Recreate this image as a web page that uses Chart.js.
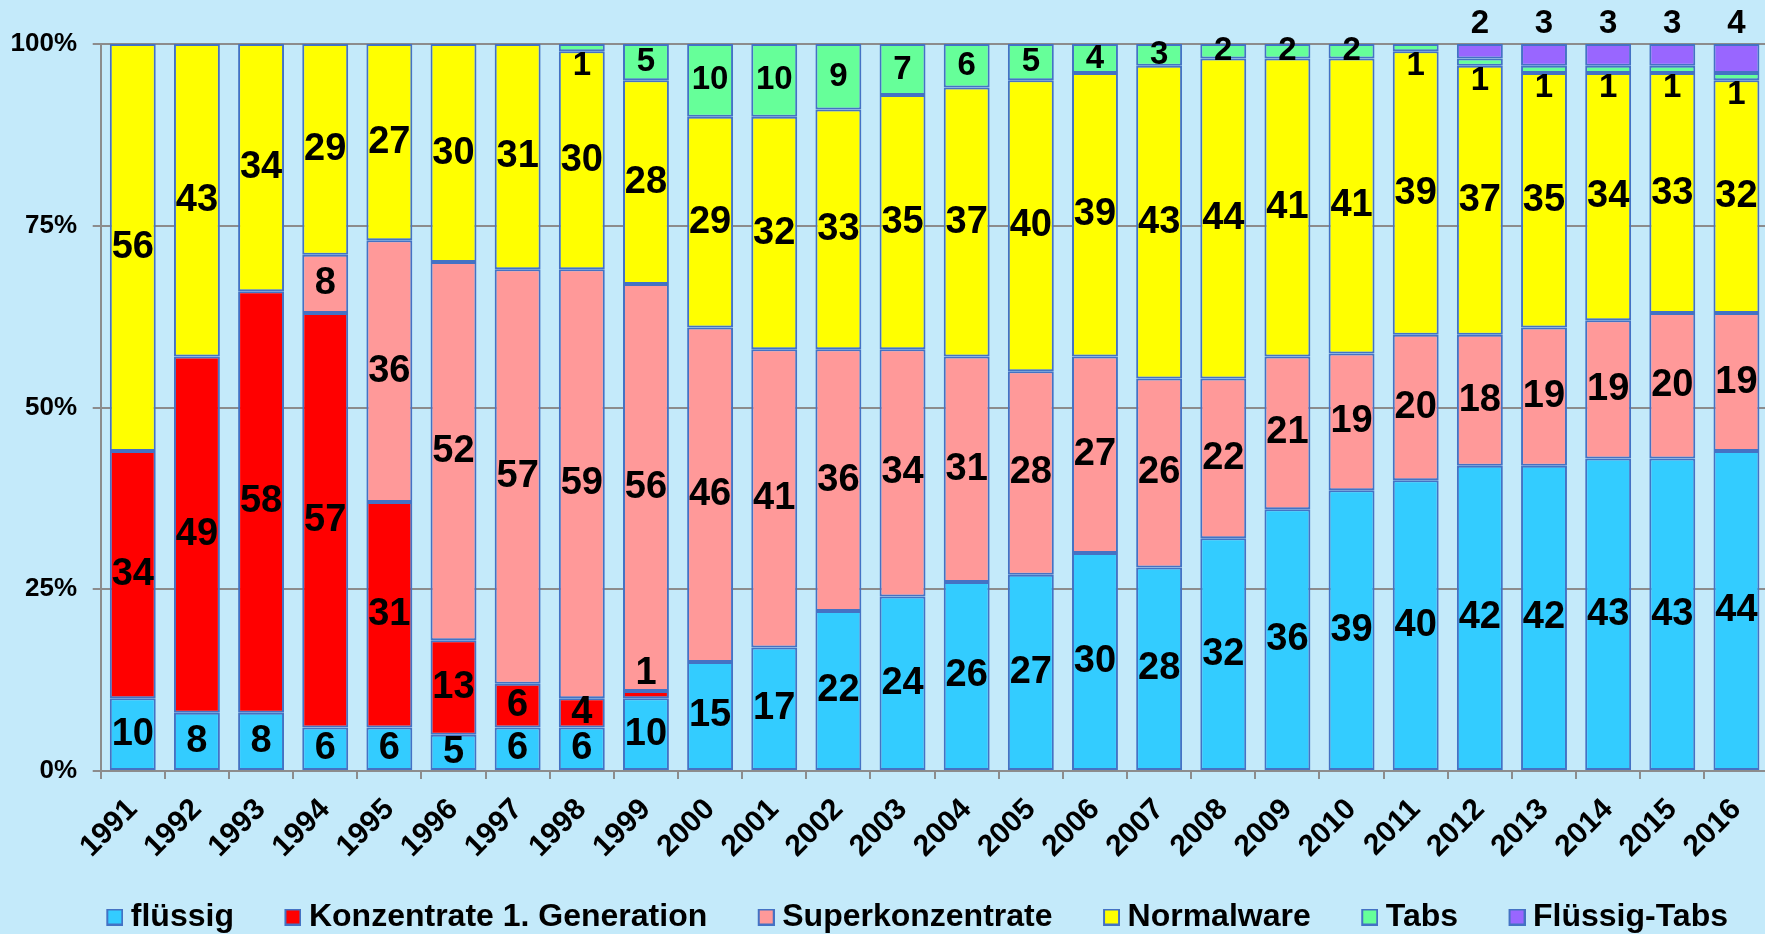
<!DOCTYPE html>
<html>
<head>
<meta charset="utf-8">
<script src="https://cdn.jsdelivr.net/npm/chart.js@4.4.1/dist/chart.umd.min.js"></script>
<style>
  html, body { margin: 0; padding: 0; background: #C4EAFA; overflow: hidden; }
  canvas { display: block; }
</style>
</head>
<body>
<canvas id="chart" width="1775" height="934"></canvas>
<script>
// Anteile in % je Jahr
var years = ['1991', '1992', '1993', '1994', '1995', '1996', '1997', '1998', '1999', '2000', '2001', '2002', '2003',
             '2004', '2005', '2006', '2007', '2008', '2009', '2010', '2011', '2012', '2013', '2014', '2015', '2016'];
var fluessig     = [10, 8, 8, 6, 6, 5, 6, 6, 10, 15, 17, 22, 24, 26, 27, 30, 28, 32, 36, 39, 40, 42, 42, 43, 43, 44];
var konzentrate  = [34, 49, 58, 57, 31, 13, 6, 4, 1, 0, 0, 0, 0, 0, 0, 0, 0, 0, 0, 0, 0, 0, 0, 0, 0, 0];
var superkonz    = [0, 0, 0, 8, 36, 52, 57, 59, 56, 46, 41, 36, 34, 31, 28, 27, 26, 22, 21, 19, 20, 18, 19, 19, 20, 19];
var normalware   = [56, 43, 34, 29, 27, 30, 31, 30, 28, 29, 32, 33, 35, 37, 40, 39, 43, 44, 41, 41, 39, 37, 35, 34, 33, 32];
var tabs         = [0, 0, 0, 0, 0, 0, 0, 1, 5, 10, 10, 9, 7, 6, 5, 4, 3, 2, 2, 2, 1, 1, 1, 1, 1, 1];
var fluessigTabs = [0, 0, 0, 0, 0, 0, 0, 0, 0, 0, 0, 0, 0, 0, 0, 0, 0, 0, 0, 0, 0, 2, 3, 3, 3, 4];
var yTicks = [0, 25, 50, 75, 100];

var FONT = '"Liberation Sans", Arial, sans-serif';
var BORDER = '#4472C4';
var GRID = '#8C8C8C';

// 100%-Stapel: jede Saeule auf ihre Summe normieren (Rundung ergibt z.B. 101)
var totals = years.map(function (y, i) {
    return fluessig[i] + konzentrate[i] + superkonz[i] + normalware[i] + tabs[i] + fluessigTabs[i];
});
function share(arr) {
    return arr.map(function (v, i) { return v / totals[i] * 100; });
}

// Legenden-Kaestchen: rechts im Bild, damit es naeher am Text sitzt
function legendSwatch(color) {
    var c = document.createElement('canvas');
    c.width = 34;
    c.height = 17;
    var g = c.getContext('2d');
    g.fillStyle = color;
    g.fillRect(17, 0, 17, 17);
    g.strokeStyle = BORDER;
    g.lineWidth = 2;
    g.strokeRect(18, 1, 15, 15);
    return c;
}

function makeSet(label, values, color, labelSize, labelPlace) {
    return {
        label: label,
        data: share(values),
        shown: values,
        backgroundColor: color,
        borderColor: BORDER,
        borderWidth: 2,
        borderSkipped: false,
        swatch: legendSwatch(color),
        labelSize: labelSize,
        labelPlace: labelPlace
    };
}

// Zahlen in/an den Segmenten
var segmentLabels = {
    id: 'segmentLabels',
    afterDatasetsDraw: function (chart) {
        var ctx = chart.ctx;
        ctx.save();
        ctx.fillStyle = '#000';
        ctx.textAlign = 'center';
        ctx.textBaseline = 'middle';
        chart.data.datasets.forEach(function (ds, i) {
            var meta = chart.getDatasetMeta(i);
            ctx.font = 'bold ' + ds.labelSize + 'px ' + FONT;
            meta.data.forEach(function (bar, j) {
                var v = ds.shown[j];
                if (!v) return;
                var p = bar.getProps(['x', 'y', 'base'], true);
                var h = p.base - p.y;
                var y = (p.y + p.base) / 2;
                if (ds.labelPlace === 'above') y = p.y - 20;
                else if (h < 10 && ds.labelPlace === 'below') y = p.base + 15;
                else if (h < 10 && ds.labelPlace === 'aboveSmall') y = p.y - 18;
                ctx.fillText(String(v), p.x, y);
            });
        });
        ctx.restore();
    }
};

var ctx = document.getElementById('chart').getContext('2d');
var myChart = new Chart(ctx, {
    type: 'bar',
    data: {
        labels: years,
        datasets: [
            makeSet('flüssig', fluessig, '#33CCFF', 38, 'center'),
            makeSet('Konzentrate 1. Generation', konzentrate, '#FF0000', 38, 'aboveSmall'),
            makeSet('Superkonzentrate', superkonz, '#FF9999', 38, 'center'),
            makeSet('Normalware', normalware, '#FFFF00', 38, 'center'),
            makeSet('Tabs', tabs, '#66FF99', 33, 'below'),
            makeSet('Flüssig-Tabs', fluessigTabs, '#9966FF', 33, 'above')
        ]
    },
    options: {
        responsive: false,
        animation: false,
        devicePixelRatio: 1,
        datasets: {
            bar: { categoryPercentage: 1, barPercentage: 0.716 }
        },
        layout: {
            padding: { left: 0, right: 5, top: 44, bottom: -9 }
        },
        plugins: {
            tooltip: { enabled: false },
            legend: {
                position: 'bottom',
                align: 'end',
                labels: {
                    color: '#000',
                    font: { family: FONT, size: 32, weight: 'bold' },
                    usePointStyle: true,
                    pointStyleWidth: 17,
                    boxWidth: 17,
                    boxHeight: 17,
                    padding: 42,
                    generateLabels: function (chart) {
                        var items = Chart.defaults.plugins.legend.labels.generateLabels(chart);
                        items.forEach(function (item) {
                            item.pointStyle = chart.data.datasets[item.datasetIndex].swatch;
                        });
                        return items;
                    }
                }
            }
        },
        scales: {
            x: {
                stacked: true,
                offset: true,
                grid: { drawOnChartArea: false, offset: true, tickLength: 8, color: GRID, lineWidth: 2 },
                border: { color: GRID, width: 2 },
                ticks: {
                    color: '#000',
                    font: { family: FONT, size: 30, weight: 'bold' },
                    minRotation: 45,
                    maxRotation: 45,
                    autoSkip: false,
                    padding: 13
                },
                afterFit: function (scale) { scale.height = 88; }
            },
            y: {
                stacked: true,
                min: 0,
                max: 100,
                afterBuildTicks: function (scale) {
                    scale.ticks = yTicks.map(function (v) { return { value: v }; });
                },
                grid: { color: GRID, lineWidth: 2, tickLength: 8 },
                border: { color: GRID, width: 2 },
                ticks: {
                    color: '#000',
                    font: { family: FONT, size: 26, weight: 'bold' },
                    padding: 15.7,
                    callback: function (v) { return v + '%'; }
                },
                afterFit: function (scale) { scale.width = 100.7; }
            }
        }
    },
    plugins: [segmentLabels]
});
</script>
</body>
</html>
